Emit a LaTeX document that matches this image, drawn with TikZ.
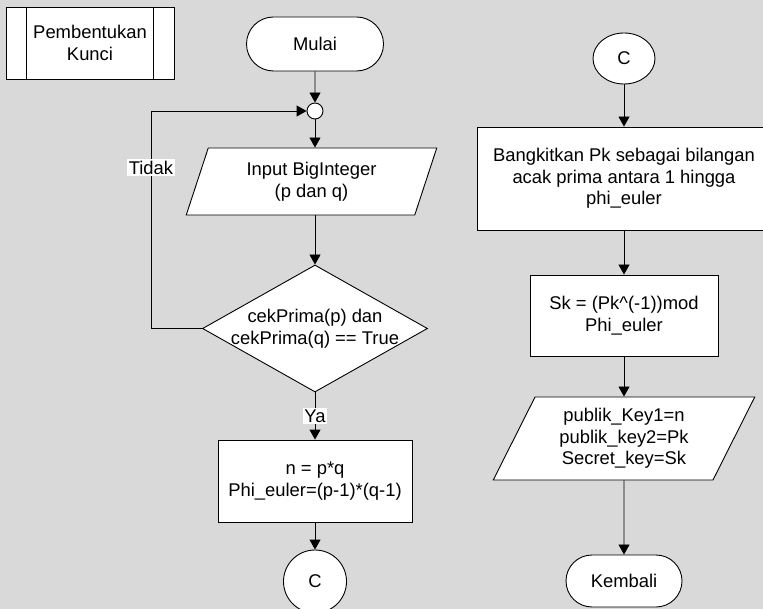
\documentclass[tikz,border=0pt]{standalone}
\usepackage{fontspec}
\setmainfont{Liberation Sans}
\usetikzlibrary{shapes.geometric,shapes.misc,arrows.meta}
\definecolor{bggray}{RGB}{217,217,217}
\begin{document}
\begin{tikzpicture}[x=1pt,y=-1pt,
  every node/.style={font=\fontsize{18.4}{21.5}\selectfont, align=center, inner sep=0pt},
  box/.style={draw, fill=white, line width=0.9pt},
  proc/.style={box, rectangle},
  term/.style={box, rounded rectangle},
  io/.style={box, trapezium, trapezium stretches=true},
  conn/.style={box, ellipse},
  flow/.style={draw, line width=0.9pt, -{Triangle[length=10pt,width=11pt]}},
  tag/.style={fill=white, inner sep=1.5pt}]
\fill[bggray] (0,0) rectangle (763,609);
\useasboundingbox (0,0) rectangle (763,609);

% subroutine header
\node[proc, minimum width=168, minimum height=72] (sub) at (90,43) {Pembentukan\\Kunci};
\draw[line width=0.9pt] ([xshift=21pt]sub.north west) -- ([xshift=21pt]sub.south west);
\draw[line width=0.9pt] ([xshift=-21pt]sub.north east) -- ([xshift=-21pt]sub.south east);

% left column
\node[term, minimum width=137, minimum height=54] (start) at (315,44) {Mulai};
\node[box, circle, minimum size=16] (join) at (315,111) {};
\node[io, trapezium left angle=70.3, trapezium right angle=109.7,
      minimum width=251, minimum height=67] (input) at (311.5,181.5) {Input BigInteger\\(p dan q)};
\node[box, diamond, minimum width=225, minimum height=127] (dec) at (315,328.5) {};
\node (dectext) at (dec) {cekPrima(p) dan\\cekPrima(q) == True};
\node[proc, minimum width=194, minimum height=82] (calc) at (315,481) {n = p*q\\Phi\_euler=(p-1)*(q-1)};
\node[box, circle, minimum size=63] (cA) at (315,581.5) {C};
\coordinate (bend) at (151,0);

% right column
\node[conn, minimum width=62, minimum height=51] (cB) at (624,58.5) {C};
\node[proc, minimum width=294, minimum height=103] (gen) at (624,178.5)
  {Bangkitkan Pk sebagai bilangan\\acak prima antara 1 hingga\\phi\_euler};
\node[proc, minimum width=188, minimum height=81] (sk) at (624,315.5)
  {Sk = (Pk\textasciicircum(-1))mod\\Phi\_euler};
\node[io, trapezium left angle=63.2, trapezium right angle=116.8,
      minimum width=262, minimum height=83] (out) at (624,438.5)
  {publik\_Key1=n\\publik\_key2=Pk\\Secret\_key=Sk};
\node[term, minimum width=116, minimum height=52] (end) at (624,581) {Kembali};

% connectors
\draw[flow] (start) -- (join);
\draw[flow] (join) -- (join |- input.north);
\draw[flow] (dec.north |- input.south) -- (dec.north);
\draw[flow] (dec.south) -- node[tag] (yes) {Ya} (calc.north);
\draw[flow] (calc) -- (cA);
\draw[flow] (dec.west) -- (dec.west -| bend)
  -- node[tag, pos=0.74] (no) {Tidak} (join -| bend) -- (join.west);

\draw[flow] (cB) -- (gen);
\draw[flow] (gen) -- (sk);
\draw[flow] (sk) -- (out);
\draw[flow] (out) -- (end);
\end{tikzpicture}
\end{document}
